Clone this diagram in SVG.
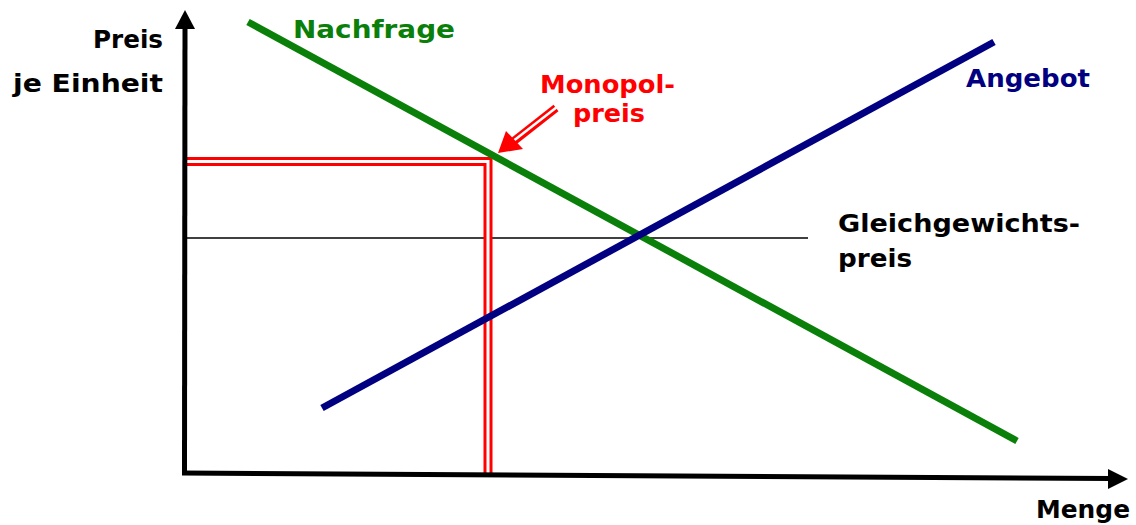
<svg xmlns="http://www.w3.org/2000/svg" width="1136" height="525" viewBox="0 0 1136 525">
<style>
text{font-family:"Comic Sans MS","DejaVu Sans",sans-serif;font-weight:bold;font-size:25px}
.blk{fill:#000}
.red{fill:#ff0000}
</style>
<defs>
<marker id="ah" markerWidth="4" markerHeight="4" refX="3.6" refY="2" orient="auto" markerUnits="strokeWidth"><path d="M0,0 L4,2 L0,4 Z" fill="#000"/></marker>
</defs>
<rect width="1136" height="525" fill="#fff"/>
<g id="connectors">
<line id="gleich-line" x1="186" y1="238" x2="808" y2="238" stroke="#000" stroke-width="1.3"/>
<path id="monopol-lines-outer" d="M184,161.5 H488 V473" fill="none" stroke="#ff0000" stroke-width="9" stroke-linejoin="miter"/>
<path id="monopol-lines-inner" d="M184,161.5 H488 V473" fill="none" stroke="#fff" stroke-width="3" stroke-linejoin="miter"/>
<line id="nachfrage" x1="248" y1="22" x2="1017" y2="441" stroke="#0a800a" stroke-width="7"/>
<line id="angebot" x1="322" y1="408" x2="994" y2="42" stroke="#000080" stroke-width="7"/>
<line id="y-axis" x1="184.5" y1="474" x2="185" y2="22" stroke="#000" stroke-width="5"/>
<polygon points="185,10 175,29 195,29" fill="#000"/>
<line id="x-axis" x1="182" y1="473" x2="1112" y2="478.5" stroke="#000" stroke-width="5"/>
<polygon points="1128,479 1108,469 1108,489" fill="#000"/>
<line id="arrow-shaft-outer" x1="556" y1="108" x2="514" y2="141" stroke="#ff0000" stroke-width="8"/>
<line id="arrow-shaft-inner" x1="557" y1="107" x2="512" y2="142" stroke="#fff" stroke-width="2.5"/>
<polygon id="arrow-head" points="498,153 506,131 523,149" fill="#ff0000"/>
</g>
<g id="label-preis"><text class="blk" x="163" y="48" text-anchor="end" textLength="70" lengthAdjust="spacingAndGlyphs">Preis</text></g>
<g id="label-einheit"><text class="blk" x="13" y="92" textLength="150" lengthAdjust="spacingAndGlyphs">je Einheit</text></g>
<g id="label-nachfrage"><text x="293" y="38" fill="#0a800a" textLength="162" lengthAdjust="spacingAndGlyphs">Nachfrage</text></g>
<g id="label-angebot"><text x="966" y="87" fill="#000080" textLength="124" lengthAdjust="spacingAndGlyphs">Angebot</text></g>
<g id="label-monopol"><text class="red" x="540" y="93" textLength="135" lengthAdjust="spacingAndGlyphs">Monopol-</text><text class="red" x="573" y="122" textLength="72" lengthAdjust="spacingAndGlyphs">preis</text></g>
<g id="label-gleich"><text class="blk" x="838" y="232" textLength="242" lengthAdjust="spacingAndGlyphs">Gleichgewichts-</text><text class="blk" x="838" y="267" textLength="74" lengthAdjust="spacingAndGlyphs">preis</text></g>
<g id="label-menge"><text class="blk" x="1036" y="518" textLength="94" lengthAdjust="spacingAndGlyphs">Menge</text></g>
</svg>
